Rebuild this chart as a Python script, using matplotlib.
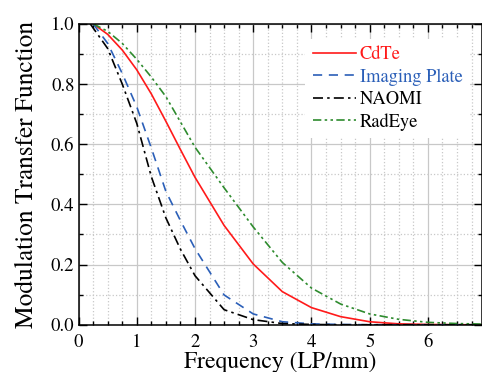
import matplotlib
matplotlib.use("Agg")
import matplotlib.pyplot as plt
from matplotlib.ticker import MultipleLocator

plt.rcParams['font.family'] = ['TeX Gyre Termes', 'FreeSerif', 'STIXGeneral', 'DejaVu Serif']

# MTF readings (frequency in LP/mm)
freq = [0.25, 0.5, 0.75, 1.0, 1.25, 1.5, 1.75, 2.0, 2.5, 3.0, 3.5, 4.0, 4.5, 5.0, 5.5, 6.0, 6.5, 7.0]
freq_naomi = [0.2, 0.5, 0.75, 1.0, 1.25, 1.5, 1.75, 2.0, 2.5, 3.0, 3.5, 4.0, 4.5, 5.0, 5.5, 6.0, 6.5, 7.0]
cdte = [1.0, 0.965, 0.913, 0.847, 0.767, 0.676, 0.582, 0.49, 0.33, 0.202, 0.11, 0.057, 0.027, 0.010, 0.003, 0.001, 0.0, 0.0]
imaging_plate = [1.0, 0.935, 0.835, 0.724, 0.587, 0.443, 0.346, 0.253, 0.099, 0.036, 0.010, 0.003, 0.001, 0.0, 0.0, 0.0, 0.0, 0.0]
naomi = [1.0, 0.918, 0.8, 0.669, 0.492, 0.355, 0.251, 0.163, 0.05, 0.017, 0.004, 0.001, 0.0, 0.0, 0.0, 0.0, 0.0, 0.0]
radeye = [1.0, 0.975, 0.935, 0.882, 0.823, 0.758, 0.674, 0.59, 0.455, 0.325, 0.207, 0.122, 0.069, 0.036, 0.018, 0.008, 0.004, 0.002]

fig = plt.figure(figsize=(4.82, 3.72), dpi=100)
ax = fig.add_axes([0.163, 0.127, 0.837, 0.809])

ax.plot(freq, cdte, color='#ff1a1a', lw=1.2, label='CdTe')
ax.plot(freq, imaging_plate, color='#2b5fb8', lw=1.2, dashes=(5.5, 4), label='Imaging Plate')
ax.plot(freq_naomi, naomi, color='black', lw=1.2, dashes=(6, 2.5, 1.5, 2.5), label='NAOMI')
ax.plot(freq, radeye, color='#2e8b2e', lw=1.2, dashes=(5, 2, 1.5, 2, 1.5, 2), label='RadEye')

ax.set_xlim(0, 6.93)
ax.set_ylim(0, 1.0)
ax.xaxis.set_major_locator(MultipleLocator(1))
ax.xaxis.set_minor_locator(MultipleLocator(0.25))
ax.yaxis.set_major_locator(MultipleLocator(0.2))
ax.yaxis.set_minor_locator(MultipleLocator(0.1))
ax.yaxis.set_major_formatter(plt.FormatStrFormatter('%.1f'))

ax.grid(which='major', color='#c8c8c8', lw=0.9, ls='-')
ax.grid(which='minor', color='#c8c8c8', lw=0.9, ls=':')
ax.set_axisbelow(True)

ax.tick_params(which='both', direction='in', top=True, right=True, labelsize=13.5)
ax.tick_params(axis='y', pad=3)
ax.tick_params(axis='x', pad=6.5)
ax.tick_params(which='major', length=6, width=1)
ax.tick_params(which='minor', length=3, width=1)
for s in ax.spines.values():
    s.set_linewidth(1.1)

ax.set_xlabel('Frequency (LP/mm)', fontsize=17, labelpad=0.5)
ax.set_ylabel('Modulation Transfer Function', fontsize=18.3, labelpad=8.5)

leg = ax.legend(loc='upper left', bbox_to_anchor=(0.562, 0.95), fontsize=13.3, frameon=True,
                handlelength=2.35, handletextpad=0.2, labelspacing=0.28, borderpad=0.4,
                borderaxespad=0)
leg.get_frame().set_edgecolor('none')
leg.get_frame().set_facecolor('white')
leg.get_frame().set_alpha(1)
for txt, c in zip(leg.get_texts(), ['#ff1a1a', '#2b5fb8', 'black', 'black']):
    txt.set_color(c)

fig.savefig('out.png', dpi=100)
